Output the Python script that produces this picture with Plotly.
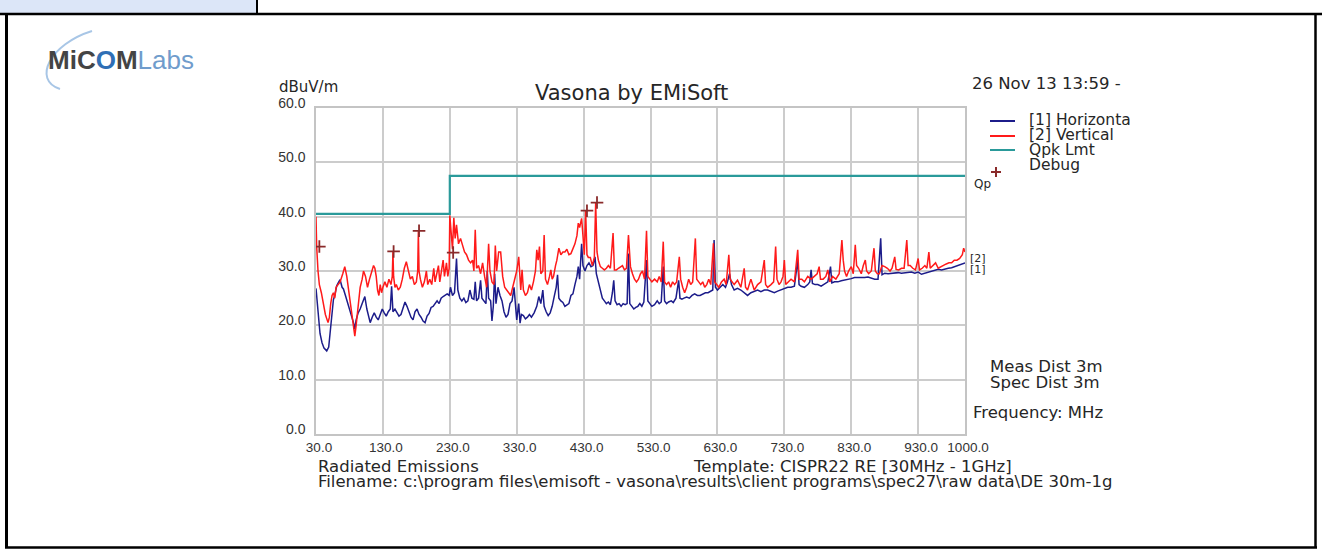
import plotly.graph_objects as go

# ---------------- data ----------------
h_freq = [30,32,34,36,39,42,46,49,51,53,56,58,61,64,66,69,71,74,76,79,83,86,88,90,93,96,99,103,106,108,111,114,117,120,123,126,129,132,135,138,141,143,145,148,151,154,157,160,163,166,169,172,175,178,181,184,187,190,193,196,199,202,205,208,211,214,217,220,223,226,229,231,234,237,240,242,245,248,251,254,257,260,263,266,268,270,273,276,278,281,284,286,288,291,293,295,297,299,302,305,308,311,314,317,320,323,326,328,330,333,335,337,340,343,346,349,352,356,360,363,366,369,371,374,377,380,383,386,389,391,393,396,399,402,405,408,411,414,417,420,422,424,427,429,432,435,438,441,444,447,449,452,455,458,461,464,467,470,473,475,477,480,483,486,489,492,495,497,499,502,505,508,511,514,517,520,524,526,529,532,536,540,543,546,549,551,554,557,561,564,568,572,574,577,580,584,588,592,596,600,604,608,612,616,620,623,625,627,630,634,638,642,645,648,651,655,660,665,670,675,680,685,690,695,700,705,710,715,720,725,730,735,740,745,750,752,755,760,765,768,770,772,776,780,785,790,795,799,801,805,810,815,820,825,830,835,840,845,850,855,860,865,870,874,876,880,885,890,895,900,905,910,915,920,925,930,935,940,945,950,955,960,965,970,975,980,985,990,995,1000]
h_level = [26.8,24.0,20.5,18.5,16.8,15.8,15.3,16.0,18.5,21.5,24.7,25.5,27.3,28.0,28.4,27.0,26.7,25.5,24.7,23.5,21.7,20.5,19.3,21.0,22.3,23.0,24.0,25.3,23.0,22.0,20.5,21.5,22.3,21.5,21.0,22.0,23.0,22.3,21.7,22.5,23.0,27.2,22.5,23.0,22.3,21.7,22.0,23.3,24.3,23.5,22.5,21.5,21.0,22.5,23.0,22.0,21.5,20.8,20.5,21.7,22.2,23.3,23.5,24.0,24.5,24.0,25.0,25.3,25.5,25.8,25.5,27.0,25.5,26.0,32.3,26.5,25.0,24.5,25.0,24.2,24.5,26.5,25.0,24.8,28.0,24.5,25.0,28.3,25.0,24.5,24.0,30.0,25.0,24.5,20.8,23.5,29.5,24.0,27.0,25.5,24.5,22.5,21.5,22.0,24.0,24.5,27.0,24.0,21.0,24.0,20.4,22.0,21.8,21.2,21.5,22.0,21.5,22.3,23.5,25.3,24.0,26.5,23.5,22.5,21.8,22.3,23.5,25.3,27.0,29.3,25.0,24.5,24.2,23.5,23.8,24.0,25.5,25.8,27.5,29.0,30.8,28.5,35.0,31.0,30.0,31.0,31.5,30.8,31.0,32.6,29.5,28.0,26.5,25.0,24.5,24.0,24.3,23.8,26.0,28.3,24.5,23.8,24.0,23.5,24.0,23.8,24.0,33.2,24.0,23.5,23.0,23.3,23.5,24.0,23.5,24.3,32.0,24.5,24.0,23.5,23.8,24.5,24.0,24.3,30.8,24.5,24.0,24.3,24.5,24.2,25.0,28.3,25.0,24.8,25.0,25.2,25.0,25.5,25.8,25.5,25.5,25.8,26.0,26.0,26.3,26.5,35.7,27.0,26.5,27.0,27.5,27.0,28.0,29.5,27.5,26.5,26.8,26.5,26.0,25.5,26.0,26.3,26.5,26.2,26.5,26.5,26.2,26.0,26.3,26.5,26.8,27.0,27.0,27.2,32.0,27.5,27.2,27.0,27.5,28.0,30.2,27.7,27.5,27.5,27.2,27.6,28.0,30.8,27.8,28.0,28.0,28.2,28.3,28.5,28.6,28.8,28.8,28.7,28.8,28.9,28.7,28.5,28.5,36.0,29.3,29.6,29.5,29.6,29.6,29.7,29.6,29.7,29.7,29.8,29.6,29.8,29.4,29.6,29.8,30.0,30.1,30.3,30.2,30.4,30.5,30.6,30.8,31.0,31.2,31.5]

v_freq = [30,31,33,35,38,41,44,48,50,52,54,56,58,60,63,66,70,73,76,78,80,83,86,88,90,93,96,99,101,104,107,110,113,116,118,120,122,124,126,128,130,133,136,139,142,144,145,146,148,150,153,156,159,162,165,168,171,174,177,180,182,183,184,186,189,192,195,197,200,203,206,208,211,213,215,218,220,222,225,227,229,230,232,234,236,238,240,243,246,249,252,255,258,261,264,266,268,270,273,276,279,282,285,288,290,293,296,298,300,303,306,309,312,315,318,321,324,327,330,333,336,338,340,343,346,349,352,355,358,360,362,364,366,369,371,373,376,379,381,383,385,388,390,393,396,399,402,405,408,411,414,417,420,422,424,427,429,431,433,435,437,440,443,446,448,450,452,455,458,461,464,467,470,474,476,479,482,485,488,491,494,497,500,503,506,509,512,515,518,521,524,526,529,532,536,540,543,546,549,551,554,557,560,563,566,569,573,575,578,581,584,587,590,593,597,599,602,605,608,611,614,617,620,624,626,629,632,636,640,643,647,649,652,655,660,665,670,672,675,680,685,690,695,700,702,705,710,714,717,719,722,725,728,730,732,736,740,745,750,752,756,760,765,770,775,779,782,784,788,792,795,798,802,807,812,814,816,818,820,823,826,830,833,836,838,841,845,848,851,853,856,860,864,866,869,872,876,880,884,888,891,895,897,901,905,909,913,915,918,922,926,930,932,936,940,943,946,948,952,956,960,964,968,972,976,980,984,988,992,996,998,1000]
v_level = [40.0,34.5,30.0,27.5,26.0,24.0,22.0,20.5,21.5,24.0,25.5,26.0,25.0,27.0,27.5,28.0,29.5,30.8,29.0,27.0,25.0,22.0,19.3,18.0,20.0,24.0,27.0,28.5,30.0,29.0,27.0,28.5,30.0,31.0,30.5,29.0,26.5,25.5,27.5,26.0,27.0,28.0,27.0,28.5,27.5,29.0,33.5,29.0,27.0,27.5,26.5,27.0,28.5,30.5,31.7,30.0,28.5,29.0,27.5,28.0,30.0,37.3,30.0,28.5,27.0,28.0,30.0,27.5,28.5,27.5,30.5,28.0,29.5,31.0,28.0,30.5,32.0,29.0,31.5,29.0,30.5,40.2,37.0,34.0,39.8,36.0,38.5,35.0,36.0,34.5,33.5,33.0,32.0,31.5,32.0,30.0,37.6,30.5,31.0,29.5,31.5,29.0,27.0,35.0,30.0,28.0,27.5,34.7,30.0,33.5,33.5,29.0,27.0,26.5,26.0,25.5,27.0,28.5,30.0,32.6,26.5,30.2,26.5,25.5,26.0,27.5,26.5,28.0,30.0,33.9,32.0,34.5,29.5,30.0,36.6,28.5,27.5,29.0,30.2,28.5,29.0,31.0,32.0,34.2,33.0,33.5,33.5,34.0,33.0,33.2,34.0,35.0,36.5,38.8,38.0,39.7,36.5,33.0,41.1,33.0,32.5,32.5,31.0,32.5,42.5,33.5,32.0,30.8,30.5,30.2,30.5,31.0,30.5,37.0,30.2,30.2,30.5,30.8,31.0,30.2,30.5,36.6,30.8,29.5,28.5,28.0,28.5,29.5,30.0,28.5,37.4,29.0,28.5,28.0,28.5,28.0,29.0,28.0,35.4,28.0,27.5,28.0,27.0,28.0,27.5,28.0,32.6,28.5,27.0,26.0,27.0,28.5,27.5,28.0,36.0,28.5,28.0,27.5,28.0,27.0,27.5,28.5,27.5,35.1,28.0,27.5,27.0,28.0,28.5,27.5,33.0,28.5,28.0,27.5,28.3,27.0,30.5,27.0,26.5,28.5,26.5,27.5,28.0,32.0,27.5,27.0,27.5,28.0,34.5,28.5,27.5,28.0,29.0,32.0,27.5,28.0,28.5,28.0,33.9,28.5,28.5,28.0,29.0,28.5,29.0,29.5,30.8,28.5,28.5,29.0,30.2,28.0,29.0,28.5,29.5,32.0,35.7,32.0,30.0,29.0,30.0,30.8,29.5,34.8,31.0,30.5,29.5,31.0,32.0,30.0,29.5,30.0,34.2,30.0,29.5,29.5,31.0,30.8,30.5,30.0,30.5,32.6,30.3,30.2,30.5,30.5,35.7,31.0,31.0,30.5,30.2,32.3,30.2,30.5,31.0,30.5,33.5,30.5,31.0,31.5,30.5,30.8,31.0,31.3,31.5,31.5,32.0,32.0,32.3,33.0,34.2,33.5]

limit_freq = [30, 230, 1000]
limit_level = [40.5, 47.5, 47.5]

debug_freq = [35, 146, 184, 235, 435, 450]
debug_level = [34.5, 33.6, 37.4, 33.4, 41.1, 42.6]

x_ticks = [30, 130, 230, 330, 430, 530, 630, 730, 830, 930, 1000]
x_ticktext = ["30.0", "130.0", "230.0", "330.0", "430.0", "530.0", "630.0", "730.0", "830.0", "930.0", "1000.0"]
y_ticks = [0, 10, 20, 30, 40, 50, 60]
y_ticktext = ["0.0", "10.0", "20.0", "30.0", "40.0", "50.0", "60.0"]

# ---------------- layout helpers ----------------
W, H = 1322, 560
X0, X1, Y0, Y1 = 316, 965, 108, 434


def px(x):
    return (x - X0) / (X1 - X0)


def py(y):
    return (Y1 - y) / (Y1 - Y0)


BLUE = "#1c1c8a"
RED = "#ff1a1a"
TEAL = "#2a9a9a"
DBG = "#8a2a2a"
TXT = "#262626"
FONT = "DejaVu Sans"

fig = go.Figure()
fig.add_trace(go.Scatter(x=h_freq, y=h_level, mode="lines", line=dict(color=BLUE, width=1.5), name="[1] Horizontal"))
fig.add_trace(go.Scatter(x=v_freq, y=v_level, mode="lines", line=dict(color=RED, width=1.5), name="[2] Vertical"))
fig.add_trace(go.Scatter(x=limit_freq, y=limit_level, mode="lines", line=dict(color=TEAL, width=2.2, shape="hv"), name="Qpk Lmt"))
fig.add_trace(go.Scatter(x=debug_freq, y=debug_level, mode="markers",
                         marker=dict(symbol="cross-thin", size=9, line=dict(color=DBG, width=1.8)), name="Debug"))

ann = []


def text(x, y, s, size=16, anchor="left", color=TXT, family=FONT):
    ann.append(dict(x=px(x), y=py(y), xref="paper", yref="paper", text=s, showarrow=False,
                    xanchor=anchor, yanchor="middle", font=dict(family=family, size=size, color=color)))


text(631, 93, "Vasona by EMiSoft", 21, "center")
text(277, 87, "dBuV/m", 15)
text(970, 83, "26 Nov 13 13:59 -", 16.5)
text(1027, 120, "[1] Horizonta", 15.5)
text(1027, 135, "[2] Vertical", 15.5)
text(1027, 150, "Qpk Lmt", 15.5)
text(1027, 165, "Debug", 15.5)
text(972, 184, "Qp", 12)
text(968, 258, "[2]", 11)
text(968, 269, "[1]", 11)
text(988, 366, "Meas Dist 3m", 16.5)
text(988, 382, "Spec Dist 3m", 16.5)
text(971, 412, "Frequency: MHz", 16.5)
text(316, 466, "Radiated Emissions", 16.5)
text(691, 466, "Template: CISPR22 RE [30MHz - 1GHz]", 16.5)
text(316, 481, "Filename: c:\\program files\\emisoft - vasona\\results\\client programs\\spec27\\raw data\\DE 30m-1g", 16.5)

# logo
ann.append(dict(x=px(46), y=py(60), xref="paper", yref="paper", showarrow=False, xanchor="left", yanchor="middle",
                text="<b><span style='color:#444444'>MiC</span><span style='color:#2f6fb5'>O</span>"
                     "<span style='color:#444444'>M</span></b><span style='color:#6f9ccc'>Labs</span>",
                font=dict(family="Liberation Sans", size=26)))

shapes = []


def line(xa, ya, xb, yb, color, width):
    shapes.append(dict(type="line", xref="paper", yref="paper", x0=px(xa), y0=py(ya), x1=px(xb), y1=py(yb),
                       line=dict(color=color, width=width)))


# legend symbols
line(990, 121, 1015, 121, BLUE, 2)
line(990, 136, 1015, 136, RED, 2)
line(990, 150, 1015, 150, TEAL, 2)
line(991, 172, 1001, 172, DBG, 2)
line(996, 167, 996, 177, DBG, 2)

# logo swoosh
shapes.append(dict(type="path", xref="paper", yref="paper",
                   path=f"M {px(92)},{py(31)} C {px(50)},{py(44)} {px(32)},{py(80)} {px(60)},{py(89)}",
                   line=dict(color="#a8c6e6", width=2)))

# document frame
shapes.append(dict(type="rect", xref="paper", yref="paper", x0=px(-2), y0=py(-2), x1=px(257), y1=py(14),
                   fillcolor="#dce6f8", line=dict(color="black", width=2), layer="below"))
line(0, 14, 1322, 14, "black", 2.5)
line(257, 0, 257, 14, "black", 2)
line(6.5, 14, 6.5, 548, "black", 3)
line(1315.5, 14, 1315.5, 548, "black", 2.5)
line(5, 547.5, 1317, 547.5, "black", 2.5)

fig.update_layout(
    width=W, height=H,
    margin=dict(l=X0, r=W - X1, t=Y0, b=H - Y1),
    paper_bgcolor="white", plot_bgcolor="white",
    showlegend=False,
    annotations=ann, shapes=shapes,
)
fig.update_xaxes(range=[30, 1000], tickvals=x_ticks, ticktext=x_ticktext, showgrid=True, gridcolor="#cccccc",
                 gridwidth=1.5, showline=True, linecolor="#c4c4c4", linewidth=1.5, mirror=True, zeroline=False,
                 ticks="", ticklabelshift=3, ticklabelstandoff=0,
                 tickfont=dict(family="Liberation Sans", size=13.5, color="#333333"))
fig.update_yaxes(range=[0, 60], tickvals=y_ticks, ticktext=y_ticktext, showgrid=True, gridcolor="#cccccc",
                 gridwidth=1.5, showline=True, linecolor="#c4c4c4", linewidth=1.5, mirror=True, zeroline=False,
                 ticks="", ticklabelshift=-5, ticklabelstandoff=6,
                 tickfont=dict(family="Liberation Sans", size=14, color="#333333"))

fig.write_html("out.html", config={"displayModeBar": False},
               post_script="document.body.style.margin='0';document.body.style.overflow='hidden';")
